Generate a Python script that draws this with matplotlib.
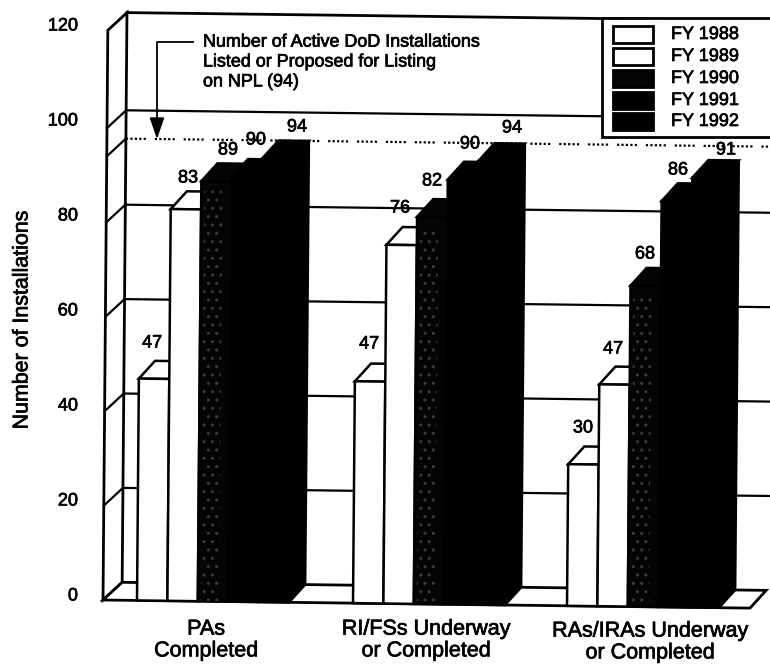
import matplotlib
matplotlib.use("Agg")
import matplotlib.pyplot as plt
import matplotlib.patheffects as pe
from matplotlib.patches import Polygon, Rectangle
from matplotlib.transforms import Affine2D

plt.rcParams['font.family'] = ['Liberation Sans', 'DejaVu Sans']

# chart values
categories = ["PAs\nCompleted", "RI/FSs Underway\nor Completed", "RAs/IRAs Underway\nor Completed"]
fy_labels = ["FY 1988", "FY 1989", "FY 1990", "FY 1991", "FY 1992"]
fy1988 = [47, 47, 30]
fy1989 = [83, 76, 47]
fy1990 = [89, 82, 68]
fy1991 = [90, 90, 86]
fy1992 = [94, 94, 91]
all_series = [fy1988, fy1989, fy1990, fy1991, fy1992]
y_ticks = [0, 20, 40, 60, 80, 100, 120]
npl_total = 94

W, H = 770, 665
fig = plt.figure(figsize=(W / 100, H / 100), dpi=100)
ax = fig.add_axes([0, 0, 1, 1])
ax.set_autoscale_on(False)
ax.set_xlim(0, W)
ax.set_ylim(-65 / 4.72, 600 / 4.72)
ax.axis('off')

# the scan sits slightly rotated, so everything in the plot goes through this
tilt = Affine2D.from_values(1, -0.00265, 0.04, 1, 0, 0.00265 * 103) + ax.transData
# texts are placed in picture pixels
px = Affine2D().scale(1, -1).translate(0, H)
# scanned text is heavier than the regular face
heavy = [pe.withStroke(linewidth=0.5, foreground='black')]

wall_x = 103
wall_dx = 19
bar_dx = 16
depth = 3.8
top = 120.7
right = 750
bar_w = 30.4
group_left = [137, 353, 567]
colors = ['white', 'white', '#050505', 'black', 'black']

# side wall and back wall
ax.add_patch(Polygon([(wall_x, 0), (wall_x, top), (wall_x + wall_dx, top + depth), (wall_x + wall_dx, depth)],
                     closed=True, fc='white', ec='black', lw=2, transform=tilt, zorder=1))
ax.plot([wall_x + wall_dx, W + 30], [top + depth, top + depth], color='black', lw=2, transform=tilt, zorder=1.2)

for v in y_ticks[1:-1]:
    ax.plot([wall_x, wall_x + wall_dx, W + 30], [v, v + depth, v + depth], color='black', lw=1.6,
            transform=tilt, zorder=1.2)

# dotted NPL line
ax.plot([wall_x, wall_x + wall_dx], [npl_total, npl_total + depth], color='black', lw=1.6, transform=tilt, zorder=1.2)
ax.plot([wall_x + wall_dx, W + 30], [npl_total + depth, npl_total + depth], color='black', lw=1.6,
        ls=(0, (1, 1, 1, 1, 1, 1, 1, 1, 1, 4)), transform=tilt, zorder=1.2)

# floor
ax.add_patch(Polygon([(wall_x, 0), (right, 0), (right + bar_dx, depth), (wall_x + wall_dx, depth)],
                     closed=True, fc='white', ec='black', lw=2, transform=tilt, zorder=1.5))

# bars, left to right so each one covers the side of the one before
z = 3
for g in range(len(categories)):
    for i, series in enumerate(all_series):
        x0 = group_left[g] + i * bar_w
        v = series[g]
        ax.add_patch(Polygon([(x0 + bar_w, 0), (x0 + bar_w + bar_dx, depth), (x0 + bar_w + bar_dx, v + depth), (x0 + bar_w, v)],
                             closed=True, fc=colors[i], ec='black', lw=1.8, transform=tilt, zorder=z))
        ax.add_patch(Polygon([(x0, v), (x0 + bar_dx, v + depth), (x0 + bar_w + bar_dx, v + depth), (x0 + bar_w, v)],
                             closed=True, fc=colors[i], ec='black', lw=1.8, transform=tilt, zorder=z))
        b = ax.bar(x0, v, width=bar_w, align='edge', color=colors[i], edgecolor='black', linewidth=1.8, zorder=z + 0.1)
        b[0].set_transform(tilt)
        if i == 2:
            # speckle of the FY 1990 shading
            s = ax.bar(x0 + 3, v - 2, width=bar_w * 0.6, align='edge', fill=False, edgecolor='#3c3c3c',
                       hatch='..', linewidth=0, zorder=z + 0.2)
            s[0].set_transform(tilt)
        z += 1

# value labels
label_xy = [(152, 343), (188, 178), (228, 150), (256, 140), (297, 127),
            (369, 344), (400, 208), (432, 181), (470, 144), (512, 128),
            (583, 428), (613, 349), (645, 254), (678, 170), (726, 150)]
values = [s[g] for g in range(3) for s in all_series]
for (x, y), v in zip(label_xy, values):
    ax.text(x, y, str(v), transform=px, ha='center', va='center', fontsize=13, zorder=60, path_effects=heavy)

# y axis labels
for v in y_ticks:
    ax.text(78, 596 - 4.75 * v, str(v), transform=px, ha='right', va='center', fontsize=13, zorder=60, path_effects=heavy)
ax.text(22, 320, "Number of Installations", transform=px, rotation=90, ha='center', va='center', fontsize=15.4,
        zorder=60, path_effects=heavy)

# category labels
cat_xy = [(206, 640), (426, 640), (650, 642)]
for (x, y), c in zip(cat_xy, categories):
    ax.text(x, y, c, transform=px, ha='center', va='center', fontsize=15.5, linespacing=1.05, zorder=60, path_effects=heavy)

# annotation with leader arrow
ax.text(203, 62, "Number of Active DoD Installations\nListed or Proposed for Listing\non NPL (94)", transform=px,
        ha='left', va='center', fontsize=12.9, linespacing=1.22, zorder=60, path_effects=heavy)
ax.plot([193, 157, 157], [42, 42, 122], color='black', lw=1.3, transform=px, zorder=60)
ax.fill([150.5, 163.5, 157], [118, 118, 137], color='black', transform=px, zorder=60)

# legend box
ax.add_patch(Rectangle((602, 18), 200, 119, fc='white', ec='black', lw=2, transform=px, zorder=70))
legend_top = [26, 48, 70, 92, 113]
for t, c, lab in zip(legend_top, colors, fy_labels):
    ax.add_patch(Rectangle((613, t), 40, 17, fc=c, ec='black', lw=2, transform=px, zorder=71))
    ax.text(671, t + 8.5, lab, transform=px, ha='left', va='center', fontsize=13, zorder=72, path_effects=heavy)

fig.savefig("out.png", dpi=100)
